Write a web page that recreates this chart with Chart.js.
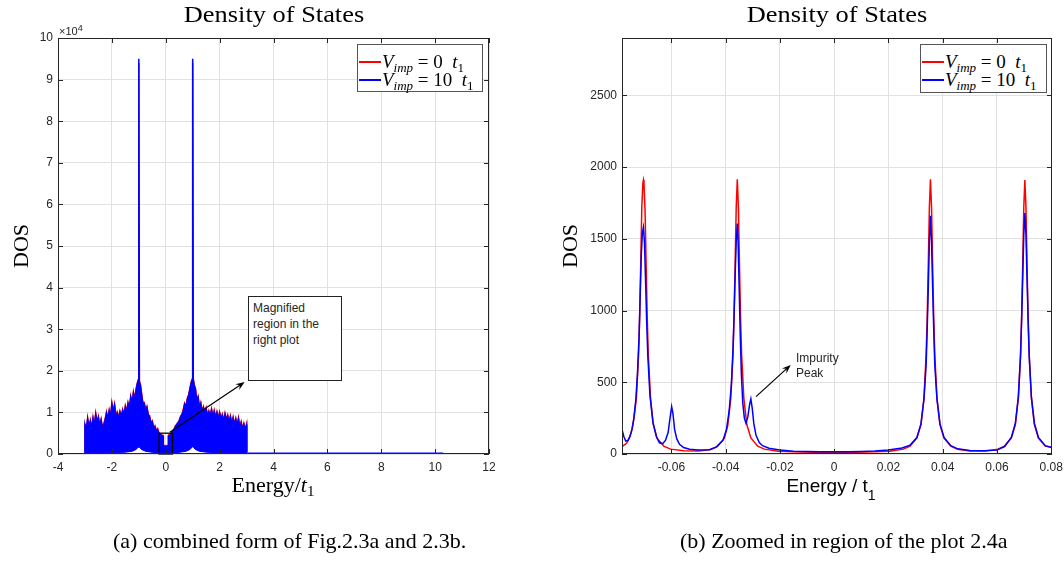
<!DOCTYPE html>
<html><head><meta charset="utf-8">
<script src="https://cdn.jsdelivr.net/npm/chart.js@4.4.0/dist/chart.umd.min.js"></script>
<style>
html,body{margin:0;padding:0;background:#fff;overflow:hidden;}
#wrap{position:relative;width:1064px;height:563px;overflow:hidden;background:#fff;}
canvas{position:absolute;top:0;}
.t{position:absolute;white-space:nowrap;color:#000;}
.serif{font-family:"Liberation Serif","Times New Roman",serif;}
.sans{font-family:"Liberation Sans",Arial,sans-serif;}
.leg{position:absolute;background:#fff;border:1px solid #555;box-sizing:border-box;}
.leg .row{position:absolute;left:1px;height:18px;display:flex;align-items:center;white-space:nowrap;}
.leg .ln{display:inline-block;width:22px;height:1.5px;margin-right:1px;}
.mt{font-family:"Liberation Serif",serif;font-size:19px;line-height:18px;}
.mt sub{font-size:13px;vertical-align:-4px;line-height:0;}
.note{position:absolute;font-family:"Liberation Sans",Arial,sans-serif;font-size:12px;color:#262626;}
</style></head>
<body>
<div id="wrap">
<canvas id="c1" width="530" height="563" style="left:0px"></canvas>
<canvas id="c2" width="560" height="563" style="left:530px"></canvas>

<div class="t serif" style="left:274px;top:2px;font-size:24px;line-height:24px;transform:translateX(-50%) scaleX(1.1)">Density of States</div>
<div class="t serif" style="left:837px;top:2px;font-size:24px;line-height:24px;transform:translateX(-50%) scaleX(1.1)">Density of States</div>

<div class="t sans" style="left:59px;top:26px;font-size:11px;line-height:11px;color:#262626">×10<sup style="font-size:9px;vertical-align:4px;line-height:0">4</sup></div>

<div class="t serif" style="left:21px;top:246px;font-size:22px;line-height:22px;transform:translate(-50%,-50%) rotate(-90deg)">DOS</div>
<div class="t serif" style="left:570px;top:246px;font-size:22px;line-height:22px;transform:translate(-50%,-50%) rotate(-90deg)">DOS</div>

<div class="t serif" style="left:273px;top:474px;font-size:22px;line-height:22px;transform:translateX(-50%)">Energy/<i>t</i><sub style="font-size:15px;vertical-align:-4px;line-height:0">1</sub></div>
<div class="t sans" style="left:831px;top:476px;font-size:19px;line-height:19px;transform:translateX(-50%)">Energy / t<sub style="font-size:14px;vertical-align:-8px;line-height:0">1</sub></div>

<div class="t serif" style="left:113px;top:530px;font-size:22px;line-height:22px">(a) combined form of Fig.2.3a and 2.3b.</div>
<div class="t serif" style="left:680px;top:530px;font-size:22px;line-height:22px">(b) Zoomed in region of the plot 2.4a</div>

<div class="leg" style="left:357px;top:44px;width:126px;height:48px">
  <div class="row" style="top:8px"><span class="ln" style="background:#ff0000"></span><span class="mt"><i>V</i><sub><i>imp</i></sub>&nbsp;=&nbsp;0&nbsp;&nbsp;<i>t</i><sub>1</sub></span></div>
  <div class="row" style="top:26px"><span class="ln" style="background:#0000ff"></span><span class="mt"><i>V</i><sub><i>imp</i></sub>&nbsp;=&nbsp;10&nbsp;&nbsp;<i>t</i><sub>1</sub></span></div>
</div>
<div class="leg" style="left:920px;top:44px;width:127px;height:49px">
  <div class="row" style="top:8px"><span class="ln" style="background:#ff0000"></span><span class="mt"><i>V</i><sub><i>imp</i></sub>&nbsp;=&nbsp;0&nbsp;&nbsp;<i>t</i><sub>1</sub></span></div>
  <div class="row" style="top:26px"><span class="ln" style="background:#0000ff"></span><span class="mt"><i>V</i><sub><i>imp</i></sub>&nbsp;=&nbsp;10&nbsp;&nbsp;<i>t</i><sub>1</sub></span></div>
</div>

<div class="note" style="left:248px;top:296px;width:94px;height:85px;border:1px solid #222;box-sizing:border-box;background:#fff;padding:3px 0 0 4px;line-height:16px">Magnified<br>region in the<br>right plot</div>
<div class="note" style="left:796px;top:351px;line-height:15px">Impurity<br>Peak</div>
</div>

<script>
// ---------- tick values ----------
const leftXTicks = [-4, -2, 0, 2, 4, 6, 8, 10, 12];
const leftYTicks = [0, 10000, 20000, 30000, 40000, 50000, 60000, 70000, 80000, 90000, 100000];
const rightXTicks = [-0.06, -0.04, -0.02, 0, 0.02, 0.04, 0.06, 0.08];
const rightYTicks = [0, 500, 1000, 1500, 2000, 2500];
const seriesNames = ['V_imp = 0 t1', 'V_imp = 10 t1'];

// ---------- left plot (full range), [energy, DOS] ----------
const leftBlueTop = [[-3.02,500],[-3.00,7000],[-2.95,5600],[-2.90,8400],[-2.85,6400],[-2.80,7800],[-2.75,6000],[-2.70,8500],[-2.65,6900],[-2.60,9500],[-2.55,7500],[-2.50,8700],[-2.45,6700],[-2.40,8100],[-2.35,6200],[-2.30,7000],[-2.25,8200],[-2.20,9800],[-2.15,8300],[-2.10,10300],[-2.05,9000],[-2.00,12000],[-1.95,10100],[-1.90,11700],[-1.85,9200],[-1.80,9800],[-1.75,8500],[-1.70,10000],[-1.65,9000],[-1.60,10400],[-1.55,9300],[-1.50,11300],[-1.45,10100],[-1.40,12100],[-1.35,10900],[-1.30,13600],[-1.25,12300],[-1.20,14600],[-1.15,13100],[-1.10,15400],[-1.06,16700],[-1.02,17600],[-1.005,95000],[-0.995,95000],[-0.98,17300],[-0.94,16400],[-0.90,14400],[-0.85,12200],[-0.80,12100],[-0.75,10600],[-0.70,11200],[-0.65,9400],[-0.60,8900],[-0.55,7400],[-0.50,7700],[-0.45,6300],[-0.40,6500],[-0.35,5500],[-0.30,5800],[-0.25,4900],[-0.20,4700],[-0.15,4400],[-0.10,4300],[-0.09,1900],[0,1800],[0.09,1900],[0.10,4300],[0.15,4500],[0.20,4800],[0.25,5300],[0.30,5700],[0.35,6400],[0.40,7000],[0.45,7300],[0.50,8000],[0.55,8800],[0.60,9400],[0.65,10400],[0.70,11900],[0.75,11300],[0.80,13100],[0.85,14100],[0.90,15600],[0.94,16900],[0.98,17700],[0.995,95000],[1.005,95000],[1.02,17900],[1.06,16400],[1.10,15600],[1.15,12900],[1.20,13600],[1.25,11200],[1.30,12100],[1.35,10200],[1.40,11100],[1.45,9700],[1.50,10800],[1.55,9100],[1.60,10100],[1.65,9300],[1.70,10600],[1.75,8900],[1.80,10200],[1.85,8700],[1.90,9900],[1.95,8500],[2.00,9800],[2.05,8600],[2.10,9300],[2.15,7800],[2.20,9500],[2.25,8200],[2.30,9100],[2.35,7700],[2.40,8900],[2.45,7300],[2.50,8600],[2.55,7100],[2.60,8300],[2.65,6800],[2.70,8400],[2.75,6500],[2.80,7500],[2.85,6000],[2.90,7100],[2.95,5800],[3.00,6900],[3.01,400]];
const leftRedTop = [[-3.02,500],[-3.00,7300],[-2.95,5700],[-2.90,8700],[-2.85,6500],[-2.80,8100],[-2.75,6100],[-2.70,8800],[-2.65,7000],[-2.60,9800],[-2.55,7600],[-2.50,9000],[-2.45,6800],[-2.40,8400],[-2.35,6300],[-2.30,7300],[-2.25,8400],[-2.20,10100],[-2.15,8400],[-2.10,10600],[-2.05,9100],[-2.00,12300],[-1.95,10200],[-1.90,12000],[-1.85,9300],[-1.80,10100],[-1.75,8600],[-1.70,10300],[-1.65,9100],[-1.60,10700],[-1.55,9400],[-1.50,11600],[-1.45,10200],[-1.40,12400],[-1.35,11000],[-1.30,13900],[-1.25,12400],[-1.20,14900],[-1.15,13200],[-1.10,15700],[-1.06,17000],[-1.02,17900],[-1.005,94000],[-0.995,94000],[-0.98,17600],[-0.94,16700],[-0.90,14700],[-0.85,12300],[-0.80,12400],[-0.75,10700],[-0.70,11500],[-0.65,9500],[-0.60,9200],[-0.55,7500],[-0.50,8000],[-0.45,6400],[-0.40,6800],[-0.35,5600],[-0.30,6100],[-0.25,5000],[-0.20,4900],[-0.15,4600],[-0.10,4500],[-0.09,2100],[0,2000],[0.09,2100],[0.10,4500],[0.15,4700],[0.20,5000],[0.25,5500],[0.30,5900],[0.35,6700],[0.40,7100],[0.45,7600],[0.50,8100],[0.55,9100],[0.60,9500],[0.65,10700],[0.70,12200],[0.75,11400],[0.80,13400],[0.85,14200],[0.90,15900],[0.94,17200],[0.98,18000],[0.995,94000],[1.005,94000],[1.02,18200],[1.06,16500],[1.10,15900],[1.15,13000],[1.20,13900],[1.25,11300],[1.30,12400],[1.35,10300],[1.40,11400],[1.45,9800],[1.50,11100],[1.55,9200],[1.60,10400],[1.65,9400],[1.70,10900],[1.75,9000],[1.80,10500],[1.85,8800],[1.90,10200],[1.95,8600],[2.00,10100],[2.05,8700],[2.10,9600],[2.15,7900],[2.20,9800],[2.25,8300],[2.30,9400],[2.35,7800],[2.40,9200],[2.45,7400],[2.50,8900],[2.55,7200],[2.60,8600],[2.65,6900],[2.70,8700],[2.75,6600],[2.80,7800],[2.85,6100],[2.90,7400],[2.95,5900],[3.00,7200],[3.01,400]];
const leftBlueBottom = [[-3.02,300],[-2.6,250],[-2.2,300],[-1.8,350],[-1.5,450],[-1.25,650],[-1.1,1100],[-1.03,1600],[-1.0,1750],[-0.97,1600],[-0.9,1100],[-0.75,650],[-0.5,400],[-0.25,300],[0,250],[0.25,300],[0.5,400],[0.75,650],[0.9,1100],[0.97,1600],[1.0,1750],[1.03,1600],[1.1,1100],[1.25,650],[1.5,450],[1.8,350],[2.2,300],[2.6,250],[3.01,300]];
const leftBlueTail = [[3.01,120],[10.3,120]];

// ---------- right plot (zoomed), [energy, DOS] ----------
const rightRed = [[-0.0782,52],[-0.0765,75],[-0.0755,110],[-0.0745,170],[-0.0737,260],[-0.0729,390],[-0.0721,690],[-0.0717,950],[-0.0713,1320],[-0.0709,1720],[-0.0705,1890],[-0.0703,1910],[-0.0701,1880],[-0.0697,1700],[-0.0693,1320],[-0.0689,950],[-0.0685,690],[-0.0677,390],[-0.0667,210],[-0.0653,110],[-0.0628,55],[-0.0603,34],[-0.0555,22],[-0.05,21],[-0.0455,32],[-0.043,53],[-0.0405,108],[-0.0392,200],[-0.0381,390],[-0.0373,690],[-0.0369,950],[-0.0365,1320],[-0.0361,1720],[-0.0357,1915],[-0.0353,1720],[-0.0349,1320],[-0.0345,950],[-0.0341,690],[-0.0333,390],[-0.0322,205],[-0.0307,112],[-0.0282,55],[-0.0257,34],[-0.0207,20],[-0.015,15],[-0.008,13],[0,13],[0.008,13],[0.015,15],[0.0205,20],[0.0255,34],[0.028,55],[0.0305,112],[0.032,205],[0.0331,390],[0.0339,690],[0.0343,950],[0.0347,1320],[0.0351,1720],[0.0355,1915],[0.0359,1720],[0.0363,1320],[0.0367,950],[0.0371,690],[0.0379,390],[0.039,205],[0.0405,110],[0.043,54],[0.0455,33],[0.05,21],[0.0555,21],[0.0603,33],[0.0628,55],[0.0653,110],[0.0668,205],[0.0679,390],[0.0687,690],[0.0691,950],[0.0695,1320],[0.0699,1720],[0.0703,1910],[0.0707,1720],[0.0711,1320],[0.0715,950],[0.0719,690],[0.0727,390],[0.0738,205],[0.0753,110],[0.0778,55],[0.0803,45]];
const rightBlue = [[-0.0782,172],[-0.0775,120],[-0.0768,90],[-0.076,95],[-0.0752,125],[-0.0745,175],[-0.0739,240],[-0.0731,380],[-0.0725,560],[-0.0719,820],[-0.0715,1100],[-0.0711,1380],[-0.0707,1540],[-0.0703,1580],[-0.0699,1470],[-0.0695,1200],[-0.0691,920],[-0.0687,690],[-0.0679,410],[-0.0668,220],[-0.0655,120],[-0.0644,78],[-0.0632,72],[-0.0622,95],[-0.0612,150],[-0.0605,250],[-0.0599,330],[-0.0594,280],[-0.0588,170],[-0.058,105],[-0.057,68],[-0.0555,45],[-0.0533,33],[-0.05,28],[-0.046,30],[-0.0435,48],[-0.041,95],[-0.0397,170],[-0.0387,300],[-0.0379,480],[-0.0373,720],[-0.0369,960],[-0.0365,1240],[-0.0361,1480],[-0.0357,1606],[-0.0354,1480],[-0.035,1150],[-0.0346,820],[-0.0342,560],[-0.0337,360],[-0.0331,250],[-0.0325,215],[-0.0318,260],[-0.0312,340],[-0.0307,384],[-0.0302,320],[-0.0296,210],[-0.0288,130],[-0.0276,80],[-0.0264,58],[-0.024,40],[-0.02,28],[-0.015,20],[-0.01,17],[-0.005,15],[0,15],[0.005,15],[0.01,17],[0.015,21],[0.02,28],[0.025,42],[0.028,62],[0.0305,115],[0.032,210],[0.0331,380],[0.0339,620],[0.0343,870],[0.0347,1160],[0.0351,1480],[0.0355,1660],[0.0359,1480],[0.0363,1160],[0.0367,870],[0.0371,620],[0.0379,380],[0.039,210],[0.0405,115],[0.043,58],[0.0455,36],[0.05,24],[0.0555,22],[0.06,27],[0.0628,52],[0.0653,115],[0.0668,215],[0.0679,400],[0.0687,680],[0.0691,930],[0.0695,1220],[0.0699,1530],[0.0703,1680],[0.0707,1530],[0.0711,1220],[0.0715,930],[0.0719,680],[0.0727,400],[0.0738,215],[0.0753,115],[0.0778,58],[0.0803,46]];

// ---------- annotations in data coordinates ----------
const leftAnno = { box: {x0: -0.25, x1: 0.25, y0: 0, y1: 5000}, arrow: {x0: 0.15, y0: 5200, x1: 2.93, y1: 17300} };
const rightAnno = { arrow: {x0: -0.0288, y0: 400, x1: -0.016, y1: 621} };

const toXY = a => a.map(([x, y]) => ({x, y}));
const AX = '#262626', GRID = '#e1e1e1';
const tickFont = {family: '"Liberation Sans", Arial, sans-serif', size: 12};

function drawArrow(ctx, x0, y0, x1, y1) {
  const ang = Math.atan2(y1 - y0, x1 - x0), c = Math.cos(ang), s = Math.sin(ang);
  const L = 9, W = 3.5;
  ctx.beginPath(); ctx.moveTo(x0, y0); ctx.lineTo(x1 - c * 4, y1 - s * 4); ctx.stroke();
  const bx = x1 - c * L, by = y1 - s * L, mx = x1 - c * L * 0.65, my = y1 - s * L * 0.65;
  ctx.beginPath(); ctx.moveTo(x1, y1); ctx.lineTo(bx - s * W, by + c * W); ctx.lineTo(mx, my); ctx.lineTo(bx + s * W, by - c * W); ctx.closePath(); ctx.fill();
}

const framePlugin = {
  id: 'frame',
  afterDraw(chart) {
    const {ctx, chartArea: a, scales: {x, y}} = chart;
    const anno = chart.options.plugins.frame.anno;
    ctx.save();
    ctx.strokeStyle = '#000'; ctx.fillStyle = '#000'; ctx.lineWidth = 1;
    if (anno && anno.box) {
      const b = anno.box;
      const l = x.getPixelForValue(b.x0), r = x.getPixelForValue(b.x1);
      const t = y.getPixelForValue(b.y1), bt = y.getPixelForValue(b.y0);
      ctx.lineWidth = 1.3; ctx.strokeRect(l, t, r - l, bt - t); ctx.lineWidth = 1;
    }
    if (anno && anno.arrow) {
      const ar = anno.arrow;
      ctx.lineWidth = 1.2;
      drawArrow(ctx, x.getPixelForValue(ar.x0), y.getPixelForValue(ar.y0), x.getPixelForValue(ar.x1), y.getPixelForValue(ar.y1));
      ctx.lineWidth = 1;
    }
    ctx.strokeStyle = AX;
    ctx.strokeRect(a.left + 0.5, a.top + 0.5, a.right - a.left - 1, a.bottom - a.top - 1);
    const L = 5;
    ctx.beginPath();
    x.ticks.forEach(t => {
      const p = Math.round(x.getPixelForValue(t.value)) + 0.5;
      ctx.moveTo(p, a.bottom); ctx.lineTo(p, a.bottom - L);
      ctx.moveTo(p, a.top); ctx.lineTo(p, a.top + L);
    });
    y.ticks.forEach(t => {
      const p = Math.round(y.getPixelForValue(t.value)) + 0.5;
      ctx.moveTo(a.left, p); ctx.lineTo(a.left + L, p);
      ctx.moveTo(a.right, p); ctx.lineTo(a.right - L, p);
    });
    ctx.stroke();
    ctx.restore();
  }
};

function makeOptions(cfg) {
  return {
    responsive: false, animation: false, events: [],
    layout: {padding: {top: 38, right: cfg.padRight, left: 0, bottom: 0}},
    plugins: {legend: {display: false}, tooltip: {enabled: false}, title: {display: false}, frame: {anno: cfg.anno}},
    elements: {point: {radius: 0}, line: {tension: 0}},
    scales: {
      x: {
        type: 'linear', min: cfg.xMin, max: cfg.xMax,
        afterBuildTicks: s => { s.ticks = cfg.xTicks.map(v => ({value: v})); },
        afterFit: s => { s.height = 109; },
        grid: {color: GRID, drawTicks: false, lineWidth: 1},
        border: {display: false},
        ticks: {color: AX, font: tickFont, padding: 6, maxRotation: 0, autoSkip: false, callback: cfg.xFmt}
      },
      y: {
        type: 'linear', min: cfg.yMin, max: cfg.yMax,
        afterBuildTicks: s => { s.ticks = cfg.yTicks.map(v => ({value: v})); },
        afterFit: s => { s.width = cfg.yWidth; },
        grid: {color: GRID, drawTicks: false, lineWidth: 1},
        border: {display: false},
        ticks: {color: AX, font: tickFont, padding: 5, autoSkip: false, callback: cfg.yFmt}
      }
    }
  };
}

new Chart(document.getElementById('c1'), {
  type: 'line',
  data: {datasets: [
    {label: seriesNames[1], data: toXY(leftBlueTop), borderColor: '#0000ff', backgroundColor: '#0000ff', borderWidth: 1.5, fill: 1},
    {label: seriesNames[1] + ' (lower)', data: toXY(leftBlueBottom), borderColor: '#0000ff', backgroundColor: '#0000ff', borderWidth: 1, fill: false},
    {label: seriesNames[1] + ' (tail)', data: toXY(leftBlueTail), borderColor: '#0000ff', borderWidth: 2, fill: false},
    {label: seriesNames[0], data: toXY(leftRedTop), borderColor: '#ff0000', backgroundColor: '#ff0000', borderWidth: 1.5, fill: 1}
  ]},
  options: makeOptions({
    padRight: 41, yWidth: 58, xMin: -4, xMax: 12, yMin: 0, yMax: 100000,
    xTicks: leftXTicks, yTicks: leftYTicks,
    xFmt: v => String(v), yFmt: v => String(Math.round(v / 10000)),
    anno: leftAnno
  }),
  plugins: [framePlugin]
});

new Chart(document.getElementById('c2'), {
  type: 'line',
  data: {datasets: [
    {label: seriesNames[1], data: toXY(rightBlue), borderColor: '#0000ff', borderWidth: 1.5, fill: false},
    {label: seriesNames[0], data: toXY(rightRed), borderColor: '#ff0000', borderWidth: 1.5, fill: false}
  ]},
  options: makeOptions({
    padRight: 38, yWidth: 92, xMin: -0.0782, xMax: 0.0803, yMin: 0, yMax: 2900,
    xTicks: rightXTicks, yTicks: rightYTicks,
    xFmt: v => (Math.abs(v) < 1e-9 ? '0' : v.toFixed(2)), yFmt: v => String(v),
    anno: rightAnno
  }),
  plugins: [framePlugin]
});
</script>
</body></html>
